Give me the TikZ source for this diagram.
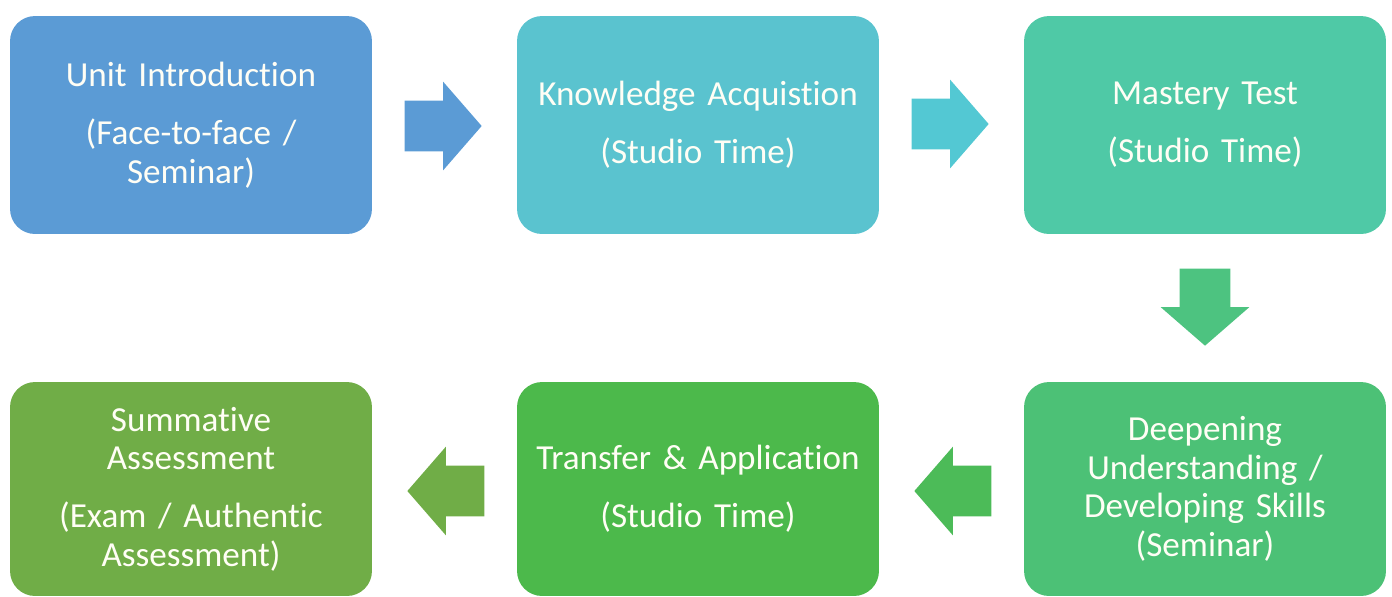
\documentclass[tikz,border=0pt]{standalone}
\usepackage{fontspec}
\setmainfont{Carlito}[Ligatures=CommonOff, WordSpace=0.85]
\usetikzlibrary{shapes.arrows,calc}

\begin{document}
\begin{tikzpicture}[x=0.02cm, y=-0.02cm]

\definecolor{cIntro}{HTML}{5B9BD5}
\definecolor{cKnow}{HTML}{5AC3CF}
\definecolor{cMastery}{HTML}{4FC9A6}
\definecolor{cDeep}{HTML}{4CC176}
\definecolor{cTransfer}{HTML}{4CB94B}
\definecolor{cSumm}{HTML}{70AD47}

\tikzset{
  stage/.style = {rounded corners=0.5cm, minimum width=7.24cm, minimum height=4.36cm,
                  text width=6.9cm, align=center, text=white!96!yellow, inner sep=0pt,
                  font=\fontsize{20}{22}\selectfont},
  blockarrow/.style = {single arrow, minimum height=1.54cm, minimum width=1.76cm,
                       single arrow head extend=0.38cm, single arrow tip angle=98,
                       inner xsep=0pt, inner ysep=0.5cm, anchor=tail},
}

\useasboundingbox (0,0) rectangle (1392,596);

%% ---------- top row ----------
\node[stage, fill=cIntro]   (intro)   at (191,125) {Unit Introduction\\[11pt] (Face-to-face /\\ Seminar)};
\node[stage, fill=cKnow]    (know)    at (698,125) {Knowledge Acquistion\\[11pt] (Studio Time)};
\node[stage, fill=cMastery] (mastery) at (1205,125) {Mastery Test\\[11pt] (Studio Time)};

%% ---------- bottom row ----------
\node[stage, fill=cDeep, minimum height=4.28cm]     (deep)     at (1205,489) {Deepening\\ Understanding /\\ Developing Skills\\ (Seminar)};
\node[stage, fill=cTransfer, minimum height=4.28cm] (transfer) at (698,489) {Transfer \& Application\\[11pt] (Studio Time)};
\node[stage, fill=cSumm, minimum height=4.28cm]     (summ)     at (191,489) {Summative\\ Assessment\\[11pt] (Exam / Authentic\\ Assessment)};

%% ---------- the arrows between stages ----------
\node[blockarrow, fill=cIntro]                         (a1) at ($(intro.east)+(32,1)$) {};
\node[blockarrow, fill=cKnow!92!cyan]                  (a2) at ($(know.east)+(32,-1)$) {};
\node[blockarrow, fill=cDeep!80!cMastery, rotate=-90]  (a3) at ($(mastery.south)+(0,34)$) {};
\node[blockarrow, fill=cTransfer!70!cDeep, rotate=180] (a4) at ($(deep.west)+(-32,2)$) {};
\node[blockarrow, fill=cSumm, rotate=180]              (a5) at ($(transfer.west)+(-32,2)$) {};

\end{tikzpicture}
\end{document}
